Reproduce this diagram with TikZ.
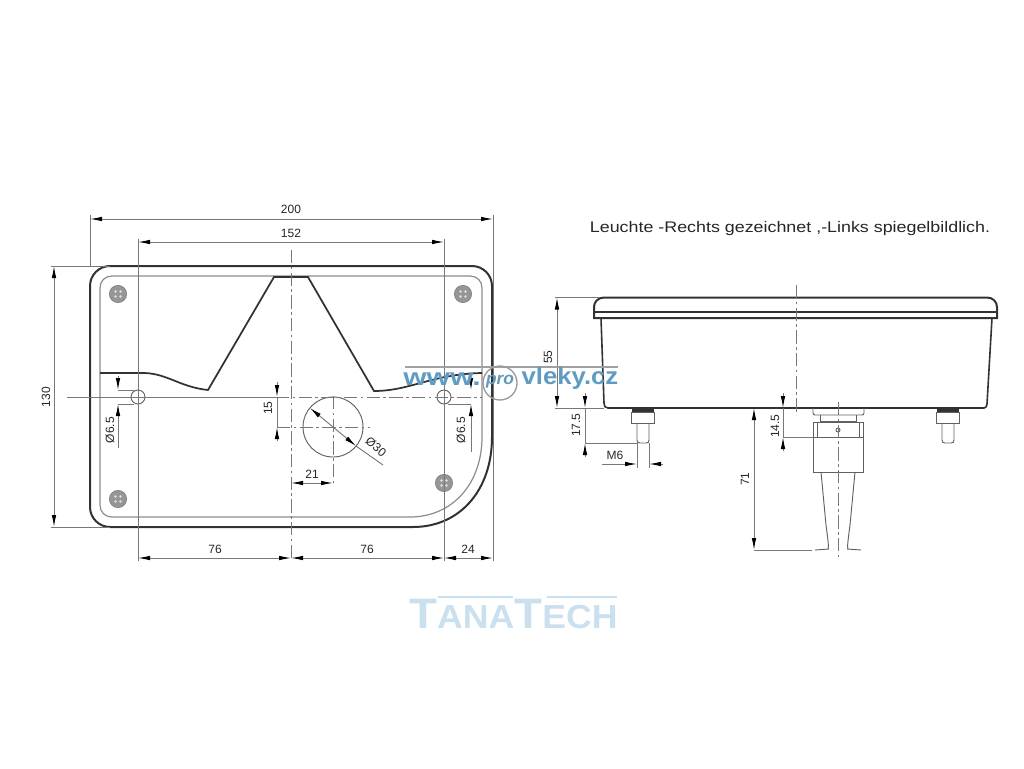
\documentclass[tikz,border=0pt]{standalone}
\usepackage{fontspec}
\setmainfont{Liberation Sans}
\usetikzlibrary{arrows.meta, positioning, calc}
\definecolor{dimcolor}{RGB}{120, 120, 120}
\definecolor{outlinecolor}{RGB}{50, 50, 50}
\definecolor{screwcolor}{RGB}{150, 150, 150}
\definecolor{webcolor}{RGB}{96, 156, 194}
\definecolor{tanacolor}{RGB}{203, 224, 238}
\tikzset{
  outline/.style={draw=outlinecolor, line width=1.5pt},
  inner line/.style={draw=dimcolor!85, line width=0.9pt},
  part/.style={draw=dimcolor!80!black, line width=0.7pt},
  dimline/.style={draw=dimcolor, line width=0.7pt},
  dimarrow/.style={dimline, {Latex[black,length=9pt,width=3.4pt]}-{Latex[black,length=9pt,width=3.4pt]}},
  endarrow/.style={dimline, -{Latex[black,length=9pt,width=3.4pt]}},
  axis line/.style={draw=dimcolor, line width=0.7pt, dash pattern=on 10pt off 2.5pt on 2pt off 2.5pt},
  dimtext/.style={font=\fontsize{9pt}{10pt}\selectfont, text=black!85, inner sep=0pt},
  screw/.style={circle, fill=screwcolor, draw=screwcolor!80!black, minimum size=13pt, inner sep=0pt},
  webtext/.style={font=\bfseries\fontsize{18pt}{19pt}\selectfont, text=webcolor, inner sep=0pt}
}
\begin{document}
\begin{tikzpicture}[x=0.75pt, y=-0.75pt]
\useasboundingbox (0,0) rectangle (1024,768);

% front view
\draw[outline] (110,266) -- (472,266) .. controls (483,266) and (492,275) .. (492,286) -- (492,437)
  .. controls (492,490) and (460,527) .. (413,527) -- (110,527) .. controls (99,527) and (90,518) .. (90,507) -- (90,286)
  .. controls (90,275) and (99,266) .. (110,266) -- cycle;
\draw[inner line] (112,276) -- (470,276) .. controls (477,276) and (482,281) .. (482,288) -- (482,437)
  .. controls (482,484) and (452,517) .. (410,517) -- (112,517) .. controls (105,517) and (100,512) .. (100,505) -- (100,288)
  .. controls (100,281) and (105,276) .. (112,276) -- cycle;
\draw[outline, line width=1.3pt] (100,373) -- (145,373) .. controls (168,374) and (180,387) .. (208,390)
  -- (274,277) -- (308,277) -- (374,391) .. controls (410,391) and (432,374) .. (482,373);

\foreach \name/\px/\py in {a/118/294, b/463/294, c/118/499, d/444/483} {
  \node[screw] (screw\name) at (\px,\py) {};
  \foreach \ang in {45,135,225,315}
    \fill[white!75!gray] ($(screw\name)+(\ang:3.5)$) circle (1.4);
}

\node[circle, part, minimum size=10.5pt, inner sep=0pt] (holel) at (138,397) {};
\node[circle, part, minimum size=10.5pt, inner sep=0pt] (holer) at (444,397) {};
\node[circle, part, minimum size=45pt, inner sep=0pt] (bighole) at (333,427) {};

% center lines
\draw[dimline] (67,397) -- (276,397);
\draw[axis line] (276,397) -- (482,397);
\draw[axis line] (291,250) -- (291,558);
\draw[axis line] (277,427) -- (370,427);
\draw[axis line] (333,396) -- (333,483);

% extension lines
\draw[dimline] (90,215) -- (90,266);
\draw[dimline] (493,215) -- (493,561);
\draw[dimline] (138,239) -- (138,561);
\draw[dimline] (444,239) -- (444,561);
\draw[dimline] (51,266) -- (110,266);
\draw[dimline] (51,527) -- (110,527);

% front view dimensions
\draw[dimarrow] (90,219) -- (493,219);
\draw[dimarrow] (138,242) -- (444,242);
\draw[dimarrow] (54,266) -- (54,527);
\draw[dimarrow] (138,558) -- (291,558);
\draw[dimarrow] (291,558) -- (444,558);
\draw[dimarrow] (444,558) -- (493,558);
\draw[dimarrow] (291,483) -- (333,483);
\draw[dimarrow] (310,408) -- (356,446);
\draw[dimline] (356,446) -- (383,465);
\draw[endarrow] (277,382) -- (277,397);
\draw[endarrow] (277,441) -- (277,427);
\draw[dimline] (277,397) -- (277,427);
\draw[endarrow] (118,376) -- (118,390);
\draw[endarrow] (118,448) -- (118,404);
\draw[dimline] (118,390) -- (134,390);
\draw[dimline] (118,404) -- (134,404);
\draw[endarrow] (471,378) -- (471,390);
\draw[endarrow] (471,452) -- (471,404);
\draw[dimline] (448,404) -- (471,404);

\node[dimtext] (lbla) at (291,209) {200};
\node[dimtext] (lblb) at (291,233) {152};
\node[dimtext, rotate=90] (lblc) at (46,397) {130};
\node[dimtext] (lbld) at (215,549) {76};
\node[dimtext] (lble) at (367,549) {76};
\node[dimtext] (lblf) at (468,549) {24};
\node[dimtext] (lblg) at (312,474) {21};
\node[dimtext, rotate=90] (lblh) at (268,408) {15};
\node[dimtext, rotate=90] (lbli) at (110,430) {Ø6.5};
\node[dimtext, rotate=90] (lblj) at (461,430) {Ø6.5};
\node[dimtext, rotate=-40] (lblk) at (376,447) {Ø30};

\node[font=\fontsize{11.5pt}{13pt}\selectfont, text=black!85, inner sep=0pt, xscale=1.165] (title) at (790,229) {Leuchte -Rechts gezeichnet ,-Links spiegelbildlich.};

% side view
\draw[outline] (604,297.5) -- (987,297.5) .. controls (993,297.5) and (997,302) .. (997,307) -- (997,318) -- (594,318) -- (594,307)
  .. controls (594,302) and (598,297.5) .. (604,297.5) -- cycle;
\draw[outline, line width=1.2pt] (594,312) -- (997,312);
\draw[outline, line width=1.2pt] (601,318) -- (604,403) .. controls (604,406) and (605,408) .. (608,408) -- (984,408) .. controls (986,408) and (987,406) .. (987,404) -- (992,318);

\foreach \name/\px in {l/643, r/948} {
  \fill[outlinecolor] (\px-11,408) rectangle (\px+11,412);
  \draw[part] (\px-11.5,412) rectangle (\px+11.5,423);
  \draw[part] (\px-6,423) -- (\px-6,440) .. controls (\px-6,442.5) and (\px-5,443) .. (\px-3,443) -- (\px+3,443)
    .. controls (\px+5,443) and (\px+6,442.5) .. (\px+6,440) -- (\px+6,423);
}

% connector
\draw[part] (813,408) -- (813,413) .. controls (813,414.5) and (814,415) .. (815,415) -- (862,415)
  .. controls (863,415) and (864,414.5) .. (864,413) -- (864,408);
\draw[part] (820,415) -- (820,421) -- (856,421) -- (856,415);
\draw[part] (817,422) -- (859,422) -- (859,437) -- (817,437) -- cycle;
\draw[part] (813,422) rectangle (817,437);
\draw[part] (859,422) rectangle (863,437);
\draw[part] (813,437) -- (813,472) -- (863,472) -- (863,437);
\draw[part] (821,472) -- (826,525) .. controls (828,540) and (829,548) .. (828,549);
\draw[part] (855,472) -- (850,525) .. controls (848,540) and (847,548) .. (848,549);
\draw[part] (815,550) -- (829,549);
\draw[part] (861,550) -- (847,549);
\draw[part] (838,430) circle (2);
\draw[axis line] (838,402) -- (838,557);
\draw[axis line] (796,285) -- (796,415);

% side view dimensions
\draw[dimline] (555,297.5) -- (600,297.5);
\draw[dimline] (555,408) -- (604,408);
\draw[dimarrow] (557,297.5) -- (557,408);
\draw[endarrow] (585,393) -- (585,408);
\draw[endarrow] (585,457) -- (585,443);
\draw[dimline] (585,408) -- (585,443);
\draw[dimline] (585,443) -- (637,443);
\draw[dimline] (637,443) -- (637,468);
\draw[dimline] (649,443) -- (649,468);
\draw[endarrow] (602,464) -- (637,464);
\draw[endarrow] (663,464) -- (649,464);
\draw[endarrow] (783,393) -- (783,408);
\draw[endarrow] (783,451) -- (783,437);
\draw[dimline] (783,408) -- (783,437);
\draw[dimline] (783,437) -- (813,437);
\draw[dimarrow] (754,408) -- (754,550);
\draw[dimline] (754,550) -- (812,550);

\node[dimtext, rotate=90] (lbll) at (548,357) {55};
\node[dimtext, rotate=90] (lblm) at (576,425) {17.5};
\node[dimtext] (lbln) at (615,455) {M6};
\node[dimtext, rotate=90] (lblo) at (775,426) {14.5};
\node[dimtext, rotate=90] (lblp) at (745,479) {71};

% watermarks
\draw[draw=dimcolor!70, line width=0.8pt] (405,367) -- (618,367);
\node[circle, draw=dimcolor!75, line width=1pt, minimum size=25.5pt, inner sep=0pt] (prologo) at (500,383) {};
\node[webtext, xscale=1.25] (weba) at (442,379) {www.};
\node[font=\bfseries\itshape\fontsize{13pt}{14pt}\selectfont, text=webcolor!85!gray, inner sep=0pt] (webb) at (500,382) {pro};
\node[webtext, xscale=1.07] (webc) at (570,378) {vleky.cz};

\draw[draw=tanacolor, line width=0.8pt] (438,597) -- (513,597);
\draw[draw=tanacolor, line width=0.8pt] (547,597) -- (617,597);
\node[font=\bfseries\fontsize{32pt}{33pt}\selectfont, text=tanacolor, inner sep=0pt, anchor=base west, xscale=1.07] (tana) at (409,628) {T\fontsize{25pt}{25pt}\selectfont ANA\fontsize{32pt}{33pt}\selectfont T\fontsize{25pt}{25pt}\selectfont ECH};
\end{tikzpicture}
\end{document}
